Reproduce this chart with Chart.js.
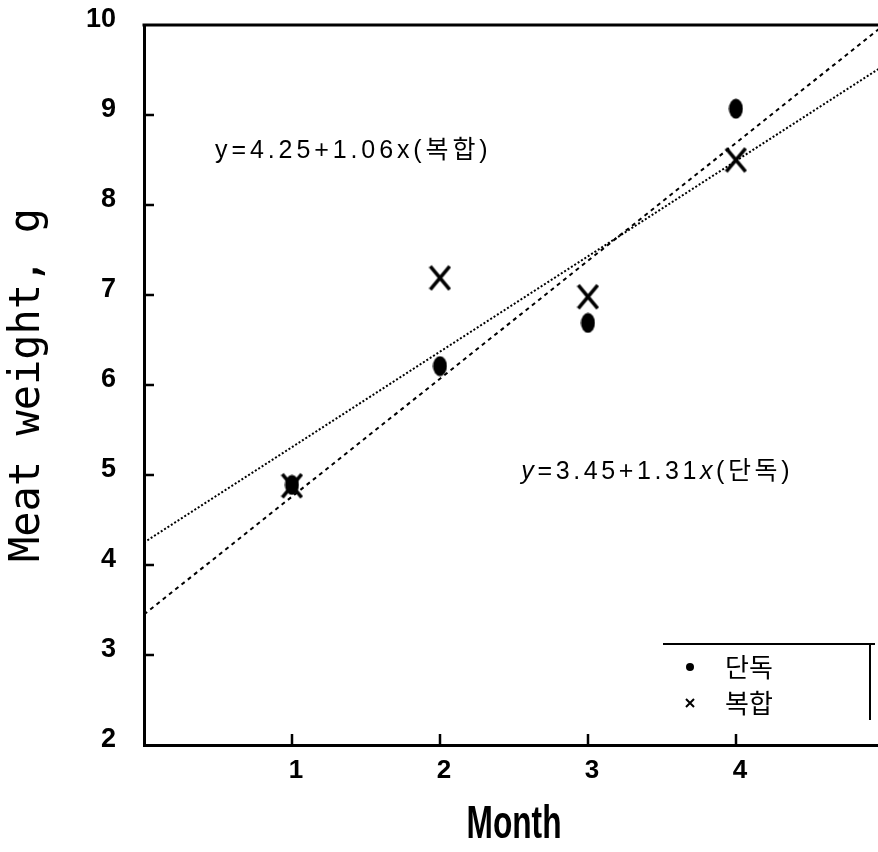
<!DOCTYPE html>
<html>
<head>
<meta charset="utf-8">
<script src="https://cdn.jsdelivr.net/npm/chart.js@4.4.1/dist/chart.umd.min.js"></script>
<style>
  html, body { margin: 0; padding: 0; background: #fff; overflow: hidden; }
  #wrap { width: 878px; height: 852px; }
  canvas { display: block; }
</style>
</head>
<body>
<div id="wrap"><canvas id="c" width="878" height="852"></canvas></div>
<script>
// Monthly meat weight (g), two rearing methods
const months = [1, 2, 3, 4];
const soloWeight = [4.89, 6.21, 6.69, 9.07];   // 단독
const mixedWeight = [4.88, 7.19, 6.98, 8.50];  // 복합
const seriesNames = ['단독', '복합'];

// Regression lines y = a + b*x, in the same order as seriesNames
const fitIntercept = [3.45, 4.25];
const fitSlope = [1.31, 1.06];

const xTicks = [1, 2, 3, 4];
const yTicks = [2, 3, 4, 5, 6, 7, 8, 9, 10];
const xRange = [0, 4.96];
const yRange = [2, 10];
const xTitle = 'Month';
const yTitle = 'Meat weight, g';

const INK = '#000';
const LATIN = "'Liberation Sans', Arial, sans-serif";
const HANGUL = "'Liberation Sans', 'Noto Sans CJK KR', sans-serif";

// Filled, slightly tall ellipse used for the 단독 markers
function ellipseMarker(w, h) {
  const cv = document.createElement('canvas');
  cv.width = w; cv.height = h;
  const g = cv.getContext('2d');
  g.fillStyle = INK;
  g.beginPath();
  g.ellipse(w / 2, h / 2, w / 2 - 0.5, h / 2 - 0.5, 0, 0, Math.PI * 2);
  g.fill();
  return cv;
}

// Heavy "X" used for the 복합 markers
function crossMarker(w, h, lw) {
  const cv = document.createElement('canvas');
  cv.width = w; cv.height = h;
  const g = cv.getContext('2d');
  g.strokeStyle = INK;
  g.lineWidth = lw;
  const p = lw / 2;
  g.beginPath();
  g.moveTo(p, p); g.lineTo(w - p, h - p);
  g.moveTo(w - p, p); g.lineTo(p, h - p);
  g.stroke();
  return cv;
}

const toPoints = (ys) => months.map((m, i) => ({ x: m, y: ys[i] }));
const fitLine = (i) => [xRange[0], 5].map(x => ({ x, y: fitIntercept[i] + fitSlope[i] * x }));

// Draws a run of text pieces, some italic, with extra letter spacing
function drawPieces(ctx, pieces, x, y, size, spacing) {
  let cx = x;
  pieces.forEach(p => {
    ctx.font = `${p.italic ? 'italic ' : ''}${size}px ${HANGUL}`;
    for (const ch of p.text) {
      ctx.fillText(ch, cx, y);
      cx += ctx.measureText(ch).width + spacing;
    }
  });
}

const decorations = {
  id: 'decorations',
  afterDraw(chart) {
    const { ctx, chartArea: a, scales: { x, y } } = chart;
    ctx.save();
    ctx.strokeStyle = INK;
    ctx.fillStyle = INK;

    // top frame edge
    ctx.lineWidth = 3;
    ctx.beginPath();
    ctx.moveTo(a.left - 1.5, a.top);
    ctx.lineTo(a.right, a.top);
    ctx.stroke();

    // inward tick marks
    ctx.lineWidth = 2.5;
    ctx.beginPath();
    xTicks.forEach(v => {
      const px = Math.round(x.getPixelForValue(v));
      ctx.moveTo(px, a.bottom);
      ctx.lineTo(px, a.bottom - 11);
    });
    yTicks.slice(1, -1).forEach(v => {
      const py = Math.round(y.getPixelForValue(v));
      ctx.moveTo(a.left, py);
      ctx.lineTo(a.left + 10, py);
    });
    ctx.stroke();

    // condensed x-axis title
    ctx.save();
    ctx.font = `bold 46px ${LATIN}`;
    ctx.textAlign = 'center';
    ctx.textBaseline = 'alphabetic';
    const tw = ctx.measureText(xTitle).width;
    const sx = 95 / tw;
    ctx.translate(514, 838);
    ctx.scale(sx, 1);
    ctx.fillText(xTitle, 0, 0);
    ctx.restore();

    // regression equations
    ctx.textBaseline = 'middle';
    ctx.textAlign = 'left';
    const eq = (i, italicVars) => [
      { text: 'y', italic: italicVars },
      { text: `=${fitIntercept[i].toFixed(2)}+${fitSlope[i].toFixed(2)}` },
      { text: 'x', italic: italicVars },
      { text: `(${seriesNames[i]})` }
    ];
    drawPieces(ctx, eq(1, false), x.getPixelForValue(0.48), y.getPixelForValue(8.6), 25, 3.9);
    drawPieces(ctx, eq(0, true), x.getPixelForValue(2.55), y.getPixelForValue(5.03), 25, 3.6);

    // legend box (open on the left and bottom)
    const lx = 663, ly = 644, rx = 870, by = 720;
    ctx.lineWidth = 2;
    ctx.beginPath();
    ctx.moveTo(lx, ly);
    ctx.lineTo(875, ly);
    ctx.moveTo(rx, ly);
    ctx.lineTo(rx, by);
    ctx.stroke();

    ctx.font = `26px 'Noto Sans CJK KR', sans-serif`;
    const rows = [667, 703];
    // 단독: small dot
    ctx.beginPath();
    ctx.arc(690, rows[0], 4, 0, Math.PI * 2);
    ctx.fill();
    ctx.fillText(seriesNames[0], 725, rows[0]);
    // 복합: small x
    ctx.lineWidth = 2;
    ctx.beginPath();
    ctx.moveTo(686, rows[1] - 4); ctx.lineTo(694, rows[1] + 4);
    ctx.moveTo(694, rows[1] - 4); ctx.lineTo(686, rows[1] + 4);
    ctx.stroke();
    ctx.fillText(seriesNames[1], 725, rows[1]);

    ctx.restore();
  }
};

new Chart(document.getElementById('c'), {
  type: 'scatter',
  data: {
    datasets: [
      {
        label: seriesNames[1] + ' fit',
        data: fitLine(1),
        showLine: true,
        borderColor: INK,
        borderWidth: 2,
        borderDash: [2, 2],
        pointRadius: 0,
        order: 3
      },
      {
        label: seriesNames[0] + ' fit',
        data: fitLine(0),
        showLine: true,
        borderColor: INK,
        borderWidth: 2,
        borderDash: [4, 4],
        pointRadius: 0,
        order: 4
      },
      {
        label: seriesNames[0],
        data: toPoints(soloWeight),
        pointStyle: ellipseMarker(15, 21),
        order: 2
      },
      {
        label: seriesNames[1],
        data: toPoints(mixedWeight),
        pointStyle: crossMarker(23, 27, 3.6),
        order: 1
      }
    ]
  },
  options: {
    responsive: false,
    animation: false,
    events: [],
    layout: { autoPadding: false, padding: { top: 25, right: 0, bottom: 0, left: 0 } },
    plugins: { legend: { display: false }, tooltip: { enabled: false } },
    scales: {
      x: {
        type: 'linear',
        min: xRange[0],
        max: xRange[1],
        afterBuildTicks(s) { s.ticks = xTicks.map(v => ({ value: v })); },
        afterFit(s) { s.height = 107; s.paddingLeft = 0; s.paddingRight = 0; },
        grid: { display: true, drawOnChartArea: false, drawTicks: false },
        border: { display: true, color: INK, width: 3 },
        ticks: {
          color: INK,
          padding: 10,
          labelOffset: 4,
          font: { family: LATIN, size: 26, weight: 'bold' },
          callback: v => String(v)
        },
        title: { display: false, text: xTitle }
      },
      y: {
        type: 'linear',
        min: yRange[0],
        max: yRange[1],
        afterBuildTicks(s) { s.ticks = yTicks.map(v => ({ value: v })); },
        afterFit(s) { s.width = 144; s.paddingTop = 0; s.paddingBottom = 0; },
        grid: { display: true, drawOnChartArea: false, drawTicks: false },
        border: { display: true, color: INK, width: 3 },
        ticks: {
          color: INK,
          padding: 28,
          labelOffset: -5,
          font: { family: LATIN, size: 27, weight: 'bold' },
          callback: v => String(v)
        },
        title: {
          display: true,
          text: yTitle,
          color: INK,
          font: { family: "'DejaVu Sans Mono', monospace", size: 42 },
          padding: { top: 3, bottom: 0 }
        }
      }
    }
  },
  plugins: [decorations]
});
</script>
</body>
</html>
